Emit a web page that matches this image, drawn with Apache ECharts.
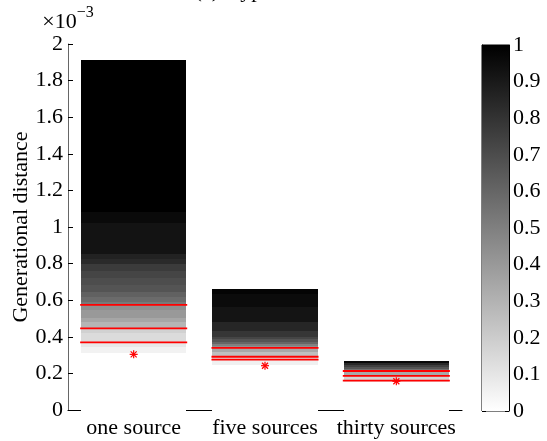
<!DOCTYPE html>
<html>
<head>
<meta charset="utf-8">
<style>html,body{margin:0;padding:0;background:#fff}#c{width:547px;height:441px}</style>
<script src="https://cdn.jsdelivr.net/npm/echarts@6/dist/echarts.min.js"></script>
</head>
<body>
<div id="c"></div>
<script>
// values in units of 1e-3
const categories = ['one source', 'five sources', 'thirty sources'];
const yTicks = [0, 0.2, 0.4, 0.6, 0.8, 1, 1.2, 1.4, 1.6, 1.8, 2];
const colorbarTicks = [0, 0.1, 0.2, 0.3, 0.4, 0.5, 0.6, 0.7, 0.8, 0.9, 1];

// band edges (bottom to top) and darkness (0 = white, 1 = black) of each band
const edges1 = [0, 0.311, 0.344, 0.370, 0.421, 0.446, 0.481, 0.503, 0.546, 0.575, 0.590, 0.617, 0.645, 0.683, 0.721, 0.761, 0.798, 0.823, 0.851, 1.024, 1.082, 1.913];
const dark1  = [0, 0.05, 0.09, 0.14, 0.18, 0.29, 0.35, 0.40, 0.44, 0.53, 0.58, 0.62, 0.67, 0.70, 0.73, 0.77, 0.835, 0.867, 0.925, 0.96, 1.0];
const edges2 = [0, 0.246, 0.275, 0.290, 0.317, 0.339, 0.350, 0.361, 0.372, 0.386, 0.400, 0.433, 0.479, 0.565, 0.632, 0.661];
const dark2  = [0, 0.06, 0.12, 0.25, 0.34, 0.44, 0.50, 0.60, 0.67, 0.73, 0.79, 0.85, 0.92, 0.955, 0.985];
const edges3 = [0, 0.153, 0.160, 0.186, 0.213, 0.224, 0.235, 0.246, 0.257, 0.268];
const dark3  = [0, 0.07, 0.17, 0.34, 0.56, 0.67, 0.75, 0.84, 0.97];

// red lines (quantiles) and asterisk markers
const redLines = [[0.575, 0.446, 0.370], [0.340, 0.291, 0.275], [0.213, 0.186, 0.160]];
const asterisks = [0.304, 0.242, 0.157];

const allEdges = [edges1, edges2, edges3];
const allDark = [dark1, dark2, dark3];
const bandData = [];
allEdges.forEach((e, i) => {
  for (let j = 0; j < e.length - 1; j++) bandData.push([i, e[j], e[j + 1], allDark[i][j]]);
});
const lineData = [];
redLines.forEach((arr, i) => arr.forEach(v => lineData.push([i, v])));
const starData = asterisks.map((v, i) => [i, v]);

const FONT = 'Liberation Serif';
const FS = 22;
const chart = echarts.init(document.getElementById('c'));

function fmt(v) { return String(Math.round(v * 10) / 10); }

chart.setOption({
  animation: false,
  backgroundColor: '#fff',
  title: {
    text: '(a) Hypervolume', left: 265, textAlign: 'center', top: -25,
    textStyle: { fontFamily: FONT, fontSize: FS, fontWeight: 'normal', color: '#000' }
  },
  grid: [
    { left: 68, right: 85, top: 44, bottom: 31 },
    { left: 482, width: 27, top: 45, height: 366, show: true, borderColor: '#000', borderWidth: 1, backgroundColor: 'transparent' }
  ],
  xAxis: [
    {
      gridIndex: 0, type: 'category', data: categories, position: 'bottom',
      axisLine: { lineStyle: { color: '#000', width: 1 } },
      axisTick: { show: false },
      axisLabel: { fontFamily: FONT, fontSize: FS, color: '#000', margin: 7, interval: 0 },
      z: 1
    },
    {
      gridIndex: 0, type: 'category', data: categories, position: 'bottom', offset: 2,
      axisLine: { lineStyle: { color: '#d8d8d8', width: 1 } },
      axisTick: { show: false }, axisLabel: { show: false }, z: 0
    },
    { gridIndex: 1, type: 'category', data: ['c'], show: false }
  ],
  yAxis: [
    {
      gridIndex: 0, type: 'value', min: 0, max: 2, interval: 0.2,
      name: '{a|×10}{b|−3}', nameLocation: 'end', nameGap: 10,
      nameTextStyle: {
        align: 'center',
        rich: {
          a: { fontFamily: FONT, fontSize: FS, color: '#000', verticalAlign: 'bottom' },
          b: { fontFamily: FONT, fontSize: 16, color: '#000', padding: [0, 0, 12, 0], verticalAlign: 'bottom' }
        }
      },
      axisLine: { show: true, lineStyle: { color: '#666', width: 1 } },
      axisTick: { show: true, inside: true, length: 5, lineStyle: { color: '#000' } },
      axisLabel: { fontFamily: FONT, fontSize: FS, color: '#000', margin: 5, formatter: fmt },
      splitLine: { show: false }
    },
    {
      gridIndex: 1, type: 'value', min: 0, max: 1, interval: 0.1, position: 'right',
      axisLine: { show: true, lineStyle: { color: '#000' } },
      axisTick: { show: true, inside: true, length: 4, lineStyle: { color: '#000' } },
      axisLabel: { fontFamily: FONT, fontSize: FS, color: '#000', margin: 4, formatter: fmt },
      splitLine: { show: false }
    },
    {
      gridIndex: 1, type: 'value', min: 0, max: 1, interval: 0.1, position: 'left',
      axisLine: { show: true, lineStyle: { color: '#000' } },
      axisTick: { show: true, inside: true, length: 4, lineStyle: { color: '#000' } },
      axisLabel: { show: false }, splitLine: { show: false }
    },
    {
      gridIndex: 0, type: 'value', min: 0, max: 2, interval: 0.2, position: 'left',
      name: 'Generational distance', nameLocation: 'middle', nameGap: 36, nameRotate: 90,
      nameTextStyle: { fontFamily: FONT, fontSize: FS, color: '#000' },
      axisLine: { show: false }, axisTick: { show: false }, axisLabel: { show: false }, splitLine: { show: false }
    }
  ],
  series: [
    {
      type: 'custom', xAxisIndex: 0, yAxisIndex: 0, data: bandData, z: 2,
      encode: { x: 0, y: [1, 2] },
      renderItem: function (params, api) {
        const c = api.value(0), lo = api.value(1), hi = api.value(2), d = api.value(3);
        const p0 = api.coord([c, lo]), p1 = api.coord([c, hi]);
        const w = api.size([1, 0])[0] * 0.8;
        const g = Math.round(255 * (1 - d));
        const x0 = Math.round(p0[0] - w / 2), x1 = Math.round(p0[0] + w / 2);
        const yTop = Math.round(p1[1]);
        let yBot = Math.round(p0[1]);
        if (lo === 0) yBot += 1;
        return {
          type: 'rect',
          shape: { x: x0, y: yTop, width: x1 - x0, height: yBot - yTop },
          style: { fill: 'rgb(' + g + ',' + g + ',' + g + ')' }
        };
      }
    },
    {
      type: 'custom', xAxisIndex: 0, yAxisIndex: 0, data: lineData, z: 3,
      encode: { x: 0, y: 1 },
      renderItem: function (params, api) {
        const p = api.coord([api.value(0), api.value(1)]);
        const w = api.size([1, 0])[0] * 0.8;
        return {
          type: 'line',
          shape: { x1: p[0] - w / 2 - 1, y1: p[1], x2: p[0] + w / 2 + 1, y2: p[1] },
          style: { stroke: '#ff0000', lineWidth: 1.8 }
        };
      }
    },
    {
      type: 'custom', xAxisIndex: 0, yAxisIndex: 0, data: starData, z: 4,
      encode: { x: 0, y: 1 },
      renderItem: function (params, api) {
        const p = api.coord([api.value(0), api.value(1)]);
        const r = 4, q = 3;
        const st = { stroke: '#ff0000', lineWidth: 1.2 };
        return {
          type: 'group',
          children: [
            { type: 'line', shape: { x1: p[0] - r, y1: p[1], x2: p[0] + r, y2: p[1] }, style: st },
            { type: 'line', shape: { x1: p[0], y1: p[1] - r, x2: p[0], y2: p[1] + r }, style: st },
            { type: 'line', shape: { x1: p[0] - q, y1: p[1] - q, x2: p[0] + q, y2: p[1] + q }, style: st },
            { type: 'line', shape: { x1: p[0] - q, y1: p[1] + q, x2: p[0] + q, y2: p[1] - q }, style: st }
          ]
        };
      }
    },
    {
      type: 'bar', xAxisIndex: 2, yAxisIndex: 1, data: [1], barWidth: '100%', z: 1,
      itemStyle: {
        color: new echarts.graphic.LinearGradient(0, 0, 0, 1, [
          { offset: 0, color: '#000000' }, { offset: 1, color: '#ffffff' }
        ])
      },
      silent: true
    }
  ]
});
</script>
</body>
</html>
